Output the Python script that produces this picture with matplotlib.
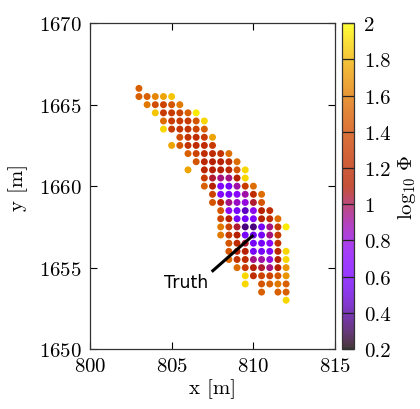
import matplotlib
matplotlib.use('Agg')
import matplotlib.pyplot as plt
from matplotlib.colors import ListedColormap, Normalize
from matplotlib.cm import ScalarMappable
import numpy as np

plt.rcParams['font.family'] = 'cmr10'
plt.rcParams['mathtext.fontset'] = 'cm'
plt.rcParams['axes.formatter.use_mathtext'] = True

# grid rows of the misfit map: y of row, x positions, log10 of misfit
row_y = [1666, 1665.5, 1665, 1664.5, 1664, 1663.5, 1663, 1662.5, 1662, 1661.5,
         1661, 1660.5, 1660, 1659.5, 1659, 1658.5, 1658, 1657.5, 1657, 1656.5,
         1656, 1655.5, 1655, 1654.5, 1654, 1653.5, 1653]
row_x = [
    [803],
    [803, 803.5, 804, 804.5, 805],
    [803.5, 804, 804.5, 805, 805.5],
    [804, 804.5, 805, 805.5, 806, 806.5],
    [804.5, 805, 805.5, 806, 806.5, 807],
    [804.5, 805, 805.5, 806, 806.5, 807],
    [805.5, 806, 806.5, 807, 807.5],
    [805, 805.5, 806, 806.5, 807, 807.5],
    [806, 806.5, 807, 807.5, 808, 808.5],
    [806.5, 807, 807.5, 808, 808.5, 809],
    [806, 807, 807.5, 808, 808.5, 809, 809.5],
    [807, 807.5, 808, 808.5, 809, 809.5],
    [807, 807.5, 808, 808.5, 809, 809.5, 810],
    [807.5, 808, 808.5, 809, 809.5, 810, 810.5],
    [807.5, 808, 808.5, 809, 809.5, 810, 810.5],
    [808, 808.5, 809, 809.5, 810, 810.5, 811],
    [808, 808.5, 809, 809.5, 810, 810.5, 811, 811.5],
    [808, 808.5, 809, 809.5, 810, 810.5, 811, 811.5, 812],
    [808, 808.5, 809, 809.5, 810, 810.5, 811, 811.5],
    [808.5, 809, 809.5, 810, 810.5, 811, 811.5],
    [808.5, 809, 809.5, 810, 810.5, 811, 811.5, 812],
    [808.5, 809, 809.5, 810, 810.5, 811, 811.5, 812],
    [809, 809.5, 810, 810.5, 811, 811.5, 812],
    [809.5, 810, 810.5, 811, 811.5, 812],
    [809.5, 810.5, 811, 811.5, 812],
    [810.5, 811.5, 812],
    [812],
]
row_phi = [
    [1.5],
    [1.5, 1.5, 1.65, 1.75, 1.85],
    [1.6, 1.4, 1.35, 1.45, 1.6],
    [1.85, 1.3, 1.3, 1.35, 1.5, 1.95],
    [1.55, 1.3, 1.3, 1.3, 1.45, 1.9],
    [1.9, 1.3, 1.25, 1.25, 1.35, 1.5],
    [1.4, 1.25, 1.2, 1.3, 1.75],
    [1.75, 1.45, 1.25, 1.2, 1.2, 1.3],
    [1.5, 1.35, 1.2, 1.2, 1.25, 1.55],
    [1.45, 1.15, 1.1, 1.1, 1.2, 1.55],
    [1.75, 1.15, 1.1, 1.1, 1.15, 1.45, 1.9],
    [1.3, 1.05, 0.95, 0.95, 1.1, 1.9],
    [1.5, 1.1, 0.65, 0.6, 0.9, 1.3, 1.55],
    [1.35, 0.65, 0.6, 0.7, 0.9, 1.2, 1.55],
    [1.45, 1.15, 0.95, 0.85, 0.8, 1.05, 1.45],
    [1.45, 0.75, 0.6, 0.45, 0.75, 1.1, 1.2],
    [1.35, 1.1, 0.6, 0.6, 0.65, 1.1, 1.2, 1.55],
    [1.6, 1.35, 1.05, 0.35, 0.35, 0.6, 0.95, 1.3, 1.95],
    [1.6, 1.3, 1.1, 0.6, 0.55, 0.6, 0.95, 1.3],
    [1.45, 1.2, 1.05, 0.6, 0.6, 0.7, 1.25],
    [1.45, 1.15, 1.1, 0.6, 0.6, 0.65, 1.15, 1.9],
    [1.55, 1.25, 1.2, 0.95, 0.9, 0.8, 1.1, 1.9],
    [1.55, 1.3, 1.1, 1.05, 0.95, 1.1, 1.7],
    [1.9, 1.2, 1.35, 1.35, 1.45, 1.7],
    [1.9, 1.45, 1.5, 1.6, 1.5],
    [1.5, 1.5, 1.5],
    [1.9],
]

truth_xy = (810.0, 1657.0)

xs = np.concatenate([np.array(r, float) for r in row_x])
ys = np.concatenate([np.full(len(r), y) for r, y in zip(row_x, row_y)])
phi = np.concatenate([np.array(r, float) for r in row_phi])

cmap = plt.get_cmap('gnuplot')
norm = Normalize(0.2, 2.0)

# the colour box is drawn slightly washed out
washed = cmap(np.linspace(0, 1, 256))
washed[:, :3] = 0.78 * washed[:, :3] + 0.22
washed_cmap = ListedColormap(washed)

fig = plt.figure(figsize=(4.2, 4.1), dpi=100)
ax = fig.add_axes([0.214, 0.146, 0.584, 0.795])
cax = fig.add_axes([0.814, 0.146, 0.029, 0.795])

ax.scatter(xs, ys, c=phi, cmap=cmap, norm=norm, s=25, linewidths=0)

# marker for the true source location
ax.plot([807.45, truth_xy[0]], [1654.75, truth_xy[1]], color='black', lw=2.2,
        solid_capstyle='butt')
ax.text(807.25, 1654.1, 'Truth', ha='right', va='center', fontsize=12.5,
        family='DejaVu Sans')

ax.set_xlim(800, 815)
ax.set_ylim(1650, 1670)
ax.set_xticks([800, 805, 810, 815])
ax.set_yticks([1650, 1655, 1660, 1665, 1670])
ax.tick_params(direction='in', length=5, width=0.8, top=True, right=True,
               labelsize=15, pad=6)
for sp in ax.spines.values():
    sp.set_color('#333333')
    sp.set_linewidth(0.9)
ax.set_xlabel('x [m]', fontsize=15, labelpad=2)
ax.set_ylabel('y [m]', fontsize=15, labelpad=8)

cb = fig.colorbar(ScalarMappable(norm=norm, cmap=washed_cmap), cax=cax)
cb.set_ticks(np.round(np.arange(0.2, 2.01, 0.2), 1))
cb.set_ticklabels(['0.2', '0.4', '0.6', '0.8', '1', '1.2', '1.4', '1.6', '1.8', '2'])
cax.tick_params(direction='in', length=8.6, width=0.9, colors='#222222',
                labelcolor='black', labelsize=15, pad=7)
cb.outline.set_edgecolor('#333333')
cb.outline.set_linewidth(0.9)
cb.set_label(r'$\log_{10}\,\Phi$', fontsize=15, labelpad=4)

fig.savefig('out.png', dpi=100)
